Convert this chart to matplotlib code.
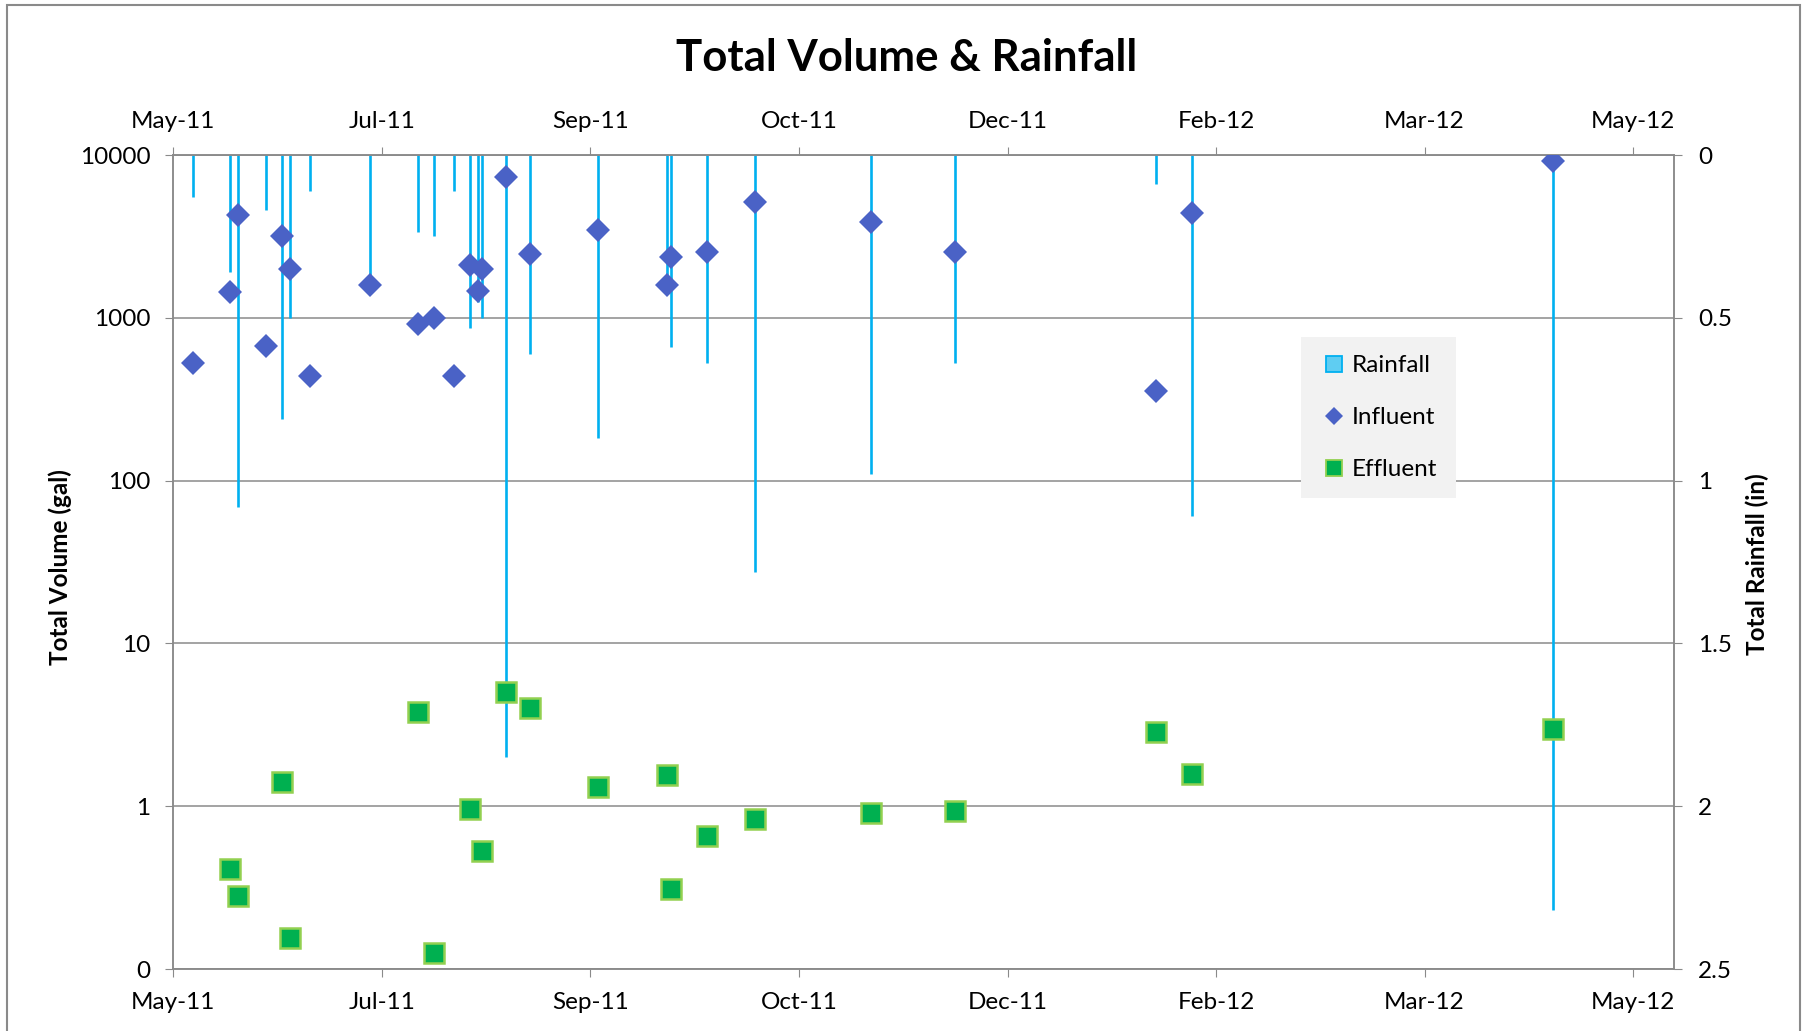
import numpy as np
import pandas as pd
import matplotlib
matplotlib.use("Agg")
import matplotlib.pyplot as plt
import matplotlib.dates as mdates
from matplotlib.ticker import FixedLocator, FixedFormatter, NullLocator
from matplotlib.lines import Line2D
from matplotlib.patches import Rectangle

plt.rcParams['font.family'] = ['Lato', 'DejaVu Sans']

# event dates
dates = ['2011-05-27', '2011-06-05', '2011-06-07', '2011-06-14', '2011-06-18', '2011-06-20',
         '2011-06-25', '2011-07-10', '2011-07-22', '2011-07-26', '2011-07-31', '2011-08-04',
         '2011-08-06', '2011-08-07', '2011-08-13', '2011-08-19', '2011-09-05', '2011-09-22',
         '2011-09-23', '2011-10-02', '2011-10-14', '2011-11-12', '2011-12-03', '2012-01-22',
         '2012-01-31', '2012-04-30']
# total rainfall (in)
rainfall = [0.13, 0.36, 1.08, 0.17, 0.81, 0.50, 0.11, 0.38, 0.235, 0.25, 0.11, 0.53,
            0.45, 0.50, 1.85, 0.61, 0.87, 0.42, 0.59, 0.64, 1.28, 0.98, 0.64, 0.09,
            1.11, 2.32]
# influent total volume (gal)
influent = [526, 1450, 4280, 675, 3200, 2000, 440, 1580, 916, 1000, 440, 2110,
            1470, 2000, 7360, 2455, 3460, 1580, 2356, 2523, 5117, 3900, 2523, 357,
            4430, 9190]
# effluent total volume (gal), nan = no sample
effluent = [np.nan, 0.41, 0.28, np.nan, 1.41, 0.156, np.nan, np.nan, 3.8, 0.125, np.nan, 0.96,
            np.nan, 0.53, 5.0, 4.0, 1.31, 1.56, 0.31, 0.66, 0.84, 0.91, 0.93, 2.84,
            1.58, 3.0]

vol_ticks = [0.1, 1, 10, 100, 1000, 10000]
vol_labels = ['0', '1', '10', '100', '1000', '10000']
rain_ticks = [0, 0.5, 1, 1.5, 2, 2.5]
rain_labels = ['0', '0.5', '1', '1.5', '2', '2.5']

axis_start = pd.Timestamp('2011-05-22')
major_days = 52
axis_days = 374.2

x = pd.to_datetime(dates)
grey = '#8a8a8a'

fig = plt.figure(figsize=(18.13, 10.31), dpi=100)
W, H = 1813, 1031
left, right, top, bottom = 173.4, 1674, 155, 969
ax_rain = fig.add_axes([left / W, 1 - bottom / H, (right - left) / W, (bottom - top) / H])
ax_vol = ax_rain.twinx()

# rainfall hangs down from the top (inverted right axis)
ax_rain.vlines(x, 0, rainfall, color='#00B0F0', linewidth=1.9, zorder=2)
ax_rain.set_ylim(2.5, 0)
ax_rain.yaxis.set_major_locator(FixedLocator(rain_ticks))
ax_rain.yaxis.set_major_formatter(FixedFormatter(rain_labels))
ax_rain.yaxis.tick_right()
ax_rain.yaxis.set_label_position('right')
ax_rain.grid(axis='y', color=grey, linewidth=1.1, zorder=0)
ax_rain.set_axisbelow(True)
ax_rain.set_ylabel('Total Rainfall (in)', fontsize=17.5, fontweight='bold', va='center')
ax_rain.yaxis.set_label_coords((1757 - left) / (right - left), 0.497)

ticks = pd.date_range(axis_start, periods=8, freq=f'{major_days}D')
ax_rain.set_xlim(axis_start, axis_start + pd.Timedelta(days=axis_days))
ax_rain.xaxis.set_major_locator(FixedLocator(mdates.date2num(ticks)))
ax_rain.xaxis.set_major_formatter(mdates.DateFormatter('%b-%y'))
ax_rain.xaxis.set_minor_locator(NullLocator())
ax_rain.tick_params(axis='x', top=True, labeltop=True, bottom=True, labelbottom=True,
                    direction='out', length=5.5, color=grey, labelsize=17.5, pad=11)
ax_rain.tick_params(axis='y', direction='out', length=5.5, color=grey, labelsize=17.5, pad=12)

# volumes on log scale, left axis
ax_vol.plot(x, influent, linestyle='none', marker='D', markersize=12.5,
            color='#4A62C6', markeredgewidth=0, zorder=3)
ax_vol.plot(x, effluent, linestyle='none', marker='s', markersize=14,
            markerfacecolor='#00B050', markeredgecolor='#92D050', markeredgewidth=1.8, zorder=4)
ax_vol.set_yscale('log')
ax_vol.set_ylim(0.1, 10000)
ax_vol.yaxis.set_major_locator(FixedLocator(vol_ticks))
ax_vol.yaxis.set_major_formatter(FixedFormatter(vol_labels))
ax_vol.yaxis.set_minor_locator(NullLocator())
ax_vol.yaxis.tick_left()
ax_vol.yaxis.set_label_position('left')
ax_vol.tick_params(axis='y', direction='out', length=5.5, color=grey, labelsize=17.5, pad=11)
ax_vol.set_ylabel('Total Volume (gal)', fontsize=17.5, fontweight='bold', va='center')
ax_vol.yaxis.set_label_coords((60 - left) / (right - left), 0.494)

for a in (ax_rain, ax_vol):
    for s in a.spines.values():
        s.set_color(grey)
        s.set_linewidth(1.1)

fig.suptitle('Total Volume & Rainfall', y=1 - 58 / H, va='center', fontsize=31.5, fontweight='bold')

handles = [Line2D([], [], linestyle='none', marker='s', markersize=11.5, markerfacecolor='#5FCDF2',
                  markeredgecolor='#00B0F0', markeredgewidth=1.3),
           Line2D([], [], linestyle='none', marker='D', markersize=9.5, color='#4A62C6', markeredgewidth=0),
           Line2D([], [], linestyle='none', marker='s', markersize=11.5, markerfacecolor='#00B050',
                  markeredgecolor='#92D050', markeredgewidth=1.3)]
leg = ax_vol.legend(handles, ['Rainfall', 'Influent', 'Effluent'], loc='upper left',
                    bbox_to_anchor=(1301 / W, 1 - 337 / H), bbox_transform=fig.transFigure,
                    fontsize=17.5, frameon=True, fancybox=False, facecolor='#F2F2F2',
                    edgecolor='none', framealpha=1, handlelength=1.25, handleheight=0.7,
                    handletextpad=0.1, labelspacing=1.27, borderpad=0.75, borderaxespad=0)

# chart area border
fig.add_artist(Rectangle((7 / W, -0.05), (1800 - 7) / W, 1.05 - 5 / H,
                         transform=fig.transFigure, fill=False, edgecolor=grey, linewidth=1.5))

plt.savefig('out.png', dpi=100)
